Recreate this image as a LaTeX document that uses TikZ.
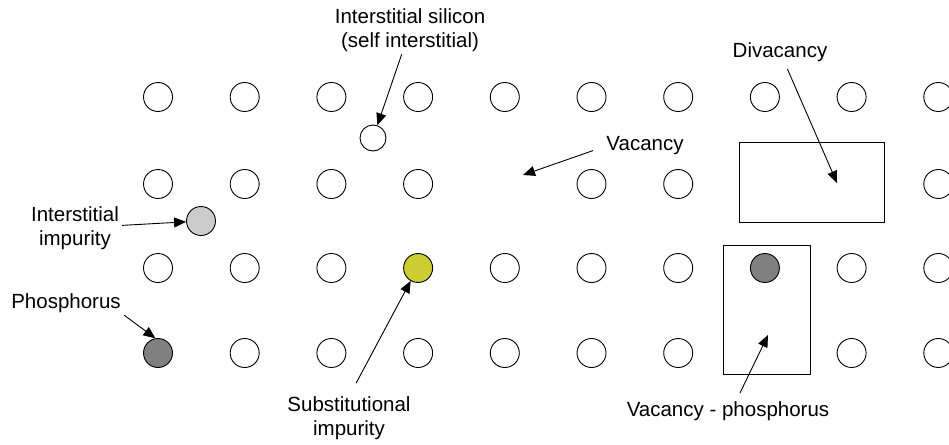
\documentclass[tikz,border=0pt]{standalone}
\usepackage{fontspec}
\setmainfont{Liberation Sans}
\usepackage{xcolor}
\usetikzlibrary{arrows.meta}

\definecolor{substcol}{RGB}{204,204,51}
\definecolor{phoscol}{RGB}{128,128,128}
\definecolor{interimp}{RGB}{204,204,204}

\tikzset{
  atom/.style={circle,draw,line width=0.9pt,fill=white,inner sep=0pt,minimum size=29pt},
  lbl/.style={inner sep=0pt,align=center,font=\fontsize{20.5}{23.5}\selectfont},
  ptr/.style={->,line width=0.9pt},
}

\begin{document}
\begin{tikzpicture}[x=1pt,y=-1pt,>={Triangle[length=12pt,width=10pt]}]
  \useasboundingbox (0,0) rectangle (949,444);

  % lattice sites
  \foreach \c in {0,...,9}
    \node[atom] (r1c\c) at ({158+86.7*\c},97) {};
  \foreach \c in {0,1,2,3,5,6,9}
    \node[atom] (r2c\c) at ({158+86.7*\c},184) {};
  \foreach \c in {0,1,2,4,5,6,8,9}
    \node[atom] (r3c\c) at ({158+86.7*\c},268) {};
  \node[atom,fill=substcol] (r3c3) at ({158+86.7*3},268) {};
  \node[atom,fill=phoscol]  (r3c7) at ({158+86.7*7},268) {};
  \foreach \c in {1,...,6,8,9}
    \node[atom] (r4c\c) at ({158+86.7*\c},353) {};
  \node[atom,fill=phoscol] (r4c0) at (158,353) {};

  % interstitials
  \node[atom,minimum size=26pt] (isi) at (373,138) {};
  \node[atom,fill=interimp] (iimp) at (201,221) {};

  % defect boxes
  \draw[line width=0.9pt] (739,142) rectangle (884,222);
  \draw[line width=0.9pt] (723,245) rectangle (810,374);
  \coordinate (vachole) at (523,175);
  \coordinate (divhole) at (837,183);
  \coordinate (vphole)  at (768,335);

  % labels
  \node[lbl] (isilbl) at (410,30) {Interstitial silicon\\(self interstitial)};
  \node[lbl] (vaclbl) at (645,146) {Vacancy};
  \node[lbl] (divlbl) at (780,52) {Divacancy};
  \node[lbl] (iimplbl) at (75,228) {Interstitial\\impurity};
  \node[lbl] (phoslbl) at (66,303) {Phosphorus};
  \node[lbl] (sublbl) at (349,418) {Substitutional\\impurity};
  \node[lbl] (vplbl) at (728,411) {Vacancy - phosphorus};

  % pointers
  \draw[ptr,shorten <=3pt] (isilbl) -- (isi);
  \draw[ptr,shorten <=14pt] (vaclbl.west) -- (vachole);
  \draw[ptr,shorten <=8pt] (divlbl) -- (divhole);
  \draw[ptr,shorten <=3pt] (iimplbl) -- (iimp);
  \draw[ptr,shorten <=4pt] (phoslbl.south east) -- (r4c0.100);
  \draw[ptr,shorten <=15pt] (sublbl.north) -- (r3c3.240);
  \draw[ptr,shorten <=9pt] ([xshift=8pt]vplbl.north) -- (vphole);
\end{tikzpicture}
\end{document}
